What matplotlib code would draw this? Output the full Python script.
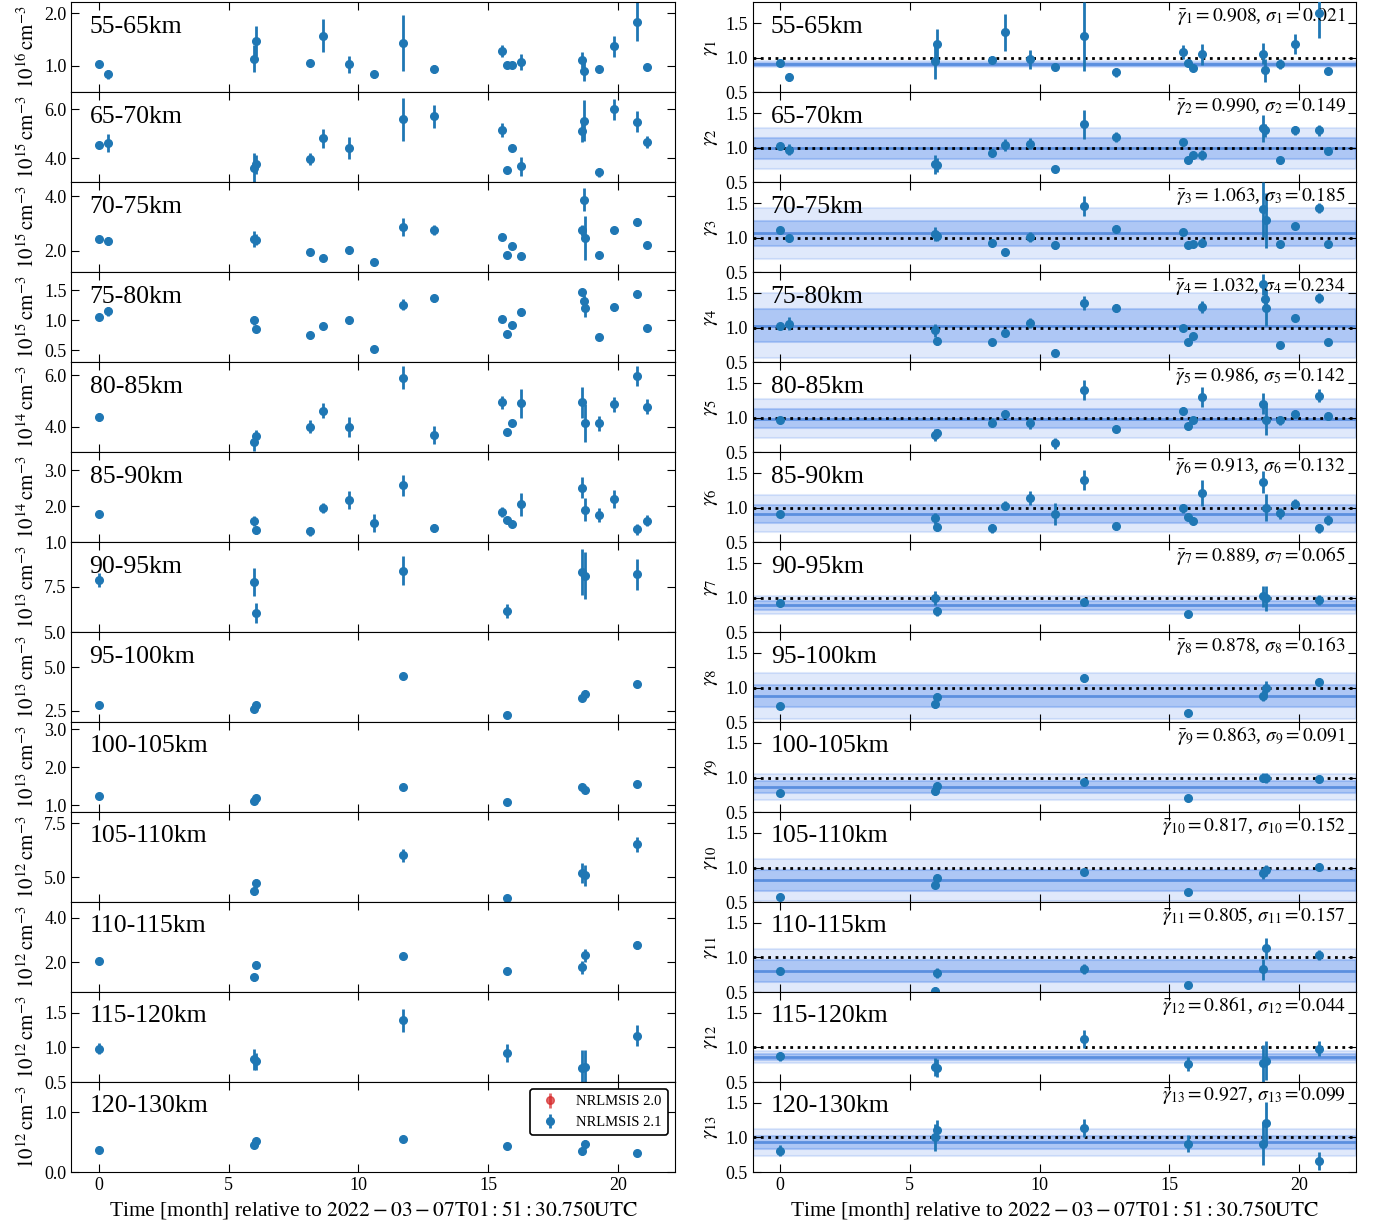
import numpy as np
import matplotlib
matplotlib.use('Agg')
import matplotlib.pyplot as plt

plt.rcParams['font.family'] = 'serif'
plt.rcParams['font.serif'] = ['Liberation Serif', 'DejaVu Serif']
plt.rcParams['mathtext.fontset'] = 'stix'

nan = np.nan

# time of each observation [month]
t_low = [0.0, 0.35, 5.97, 6.05, 8.15, 8.65, 9.65, 10.6, 11.7, 12.93, 15.52, 15.72,
         15.9, 16.27, 18.62, 18.68, 18.74, 19.28, 19.85, 20.75, 21.12]
t_high = [0.0, 5.97, 6.05, 11.7, 15.72, 18.62, 18.74, 20.75]

layers = ['55-65km', '65-70km', '70-75km', '75-80km', '80-85km', '85-90km', '90-95km',
          '95-100km', '100-105km', '105-110km', '110-115km', '115-120km', '120-130km']
exponents = [16, 15, 15, 15, 14, 14, 13, 13, 13, 12, 12, 12, 12]

# density (left column), in units of 10^exp cm^-3
dens_1 = [1.04, 0.84, 1.14, 1.47, 1.05, 1.57, 1.03, 0.84, 1.43, 0.94, 1.28, 1.01, 1.01, 1.08, 1.11, 0.91, nan, 0.94, 1.37, 1.84, 0.98]
derr_1 = [0.03, 0.08, 0.25, 0.28, 0.05, 0.31, 0.16, 0.06, 0.53, 0.08, 0.12, 0.03, 0.03, 0.15, 0.15, 0.19, nan, 0.06, 0.2, 0.37, 0.04]
dens_2 = [4.55, 4.62, 3.61, 3.74, 3.96, 4.81, 4.41, nan, 5.59, 5.71, 5.14, 3.53, 4.43, 3.66, 5.13, 5.54, nan, 3.41, 6.0, 5.49, 4.66]
derr_2 = [0.1, 0.38, 0.6, 0.4, 0.25, 0.4, 0.44, nan, 0.87, 0.46, 0.29, 0.08, 0.12, 0.38, 0.45, 0.85, nan, 0.2, 0.45, 0.43, 0.26]
dens_3 = [2.42, 2.34, 2.42, 2.40, 1.94, 1.73, 2.01, 1.58, 2.87, 2.76, 2.49, 1.84, 2.16, 1.80, 2.74, 3.87, 2.47, 1.82, 2.75, 3.05, 2.20]
derr_3 = [0.04, 0.15, 0.3, 0.2, 0.05, 0.05, 0.15, 0.06, 0.34, 0.18, 0.05, 0.05, 0.05, 0.12, 0.2, 0.42, 0.8, 0.06, 0.13, 0.15, 0.05]
dens_4 = [1.05, 1.15, 1.0, 0.86, 0.76, 0.9, 1.0, 0.52, 1.26, 1.37, 1.02, 0.77, 0.92, 1.14, 1.47, 1.33, 1.21, 0.72, 1.22, 1.44, 0.87]
derr_4 = [0.02, 0.07, 0.08, 0.05, 0.03, 0.03, 0.06, 0.03, 0.09, 0.06, 0.03, 0.03, 0.03, 0.07, 0.05, 0.1, 0.15, 0.03, 0.06, 0.07, 0.03]
dens_5 = [4.38, nan, 3.4, 3.62, 3.99, 4.62, 3.99, nan, 5.9, 3.66, 4.95, 3.79, 4.13, 4.9, 4.94, nan, 4.14, 4.13, 4.87, 5.96, 4.78]
derr_5 = [0.15, nan, 0.35, 0.25, 0.25, 0.3, 0.4, nan, 0.45, 0.35, 0.25, 0.1, 0.12, 0.55, 0.6, nan, 0.75, 0.3, 0.3, 0.4, 0.3]
dens_6 = [1.78, nan, 1.59, 1.34, 1.3, 1.95, 2.18, 1.53, 2.58, 1.4, 1.84, 1.63, 1.52, 2.05, 2.52, nan, 1.91, 1.75, 2.2, 1.36, 1.6]
derr_6 = [0.05, nan, 0.15, 0.1, 0.12, 0.15, 0.25, 0.25, 0.3, 0.12, 0.15, 0.05, 0.05, 0.33, 0.28, nan, 0.33, 0.2, 0.25, 0.15, 0.15]
dens_7 = [7.88, 7.77, 6.04, 8.39, 6.17, 8.32, 8.12, 8.19]
derr_7 = [0.4, 0.75, 0.55, 0.8, 0.4, 1.25, 1.3, 0.85]
dens_8 = [2.79, 2.56, 2.81, 4.46, 2.23, 3.23, 3.46, 4.0]
derr_8 = [0.08, 0.12, 0.12, 0.15, 0.08, 0.2, 0.2, 0.15]
dens_9 = [1.24, 1.11, 1.19, 1.49, 1.09, 1.48, 1.41, 1.56]
derr_9 = [0.04, 0.04, 0.05, 0.05, 0.04, 0.08, 0.08, 0.05]
dens_10 = [nan, 4.37, 4.71, 6.02, 4.04, 5.19, 5.08, 6.51]
derr_10 = [nan, 0.2, 0.2, 0.3, 0.15, 0.45, 0.5, 0.35]
dens_11 = [2.05, 1.32, 1.88, 2.27, 1.61, 1.76, 2.3, 2.77]
derr_11 = [0.05, 0.15, 0.15, 0.15, 0.05, 0.3, 0.3, 0.2]
dens_12 = [0.98, 0.83, 0.8, 1.39, 0.92, 0.71, 0.72, 1.17]
derr_12 = [0.08, 0.15, 0.12, 0.16, 0.13, 0.25, 0.25, 0.15]
dens_13 = [0.37, 0.45, 0.51, 0.55, 0.43, 0.35, 0.46, 0.31]
derr_13 = [0.02, 0.04, 0.04, 0.03, 0.03, 0.06, 0.07, 0.03]

# scale factor gamma (right column)
gam_1 = [0.92, 0.72, 0.95, 1.2, 0.97, 1.37, 0.98, 0.87, 1.31, 0.79, 1.08, 0.93, 0.86, 1.05, 1.06, 0.82, nan, 0.91, 1.2, 1.65, 0.81]
gerr_1 = [0.02, 0.06, 0.25, 0.22, 0.05, 0.27, 0.14, 0.05, 0.5, 0.07, 0.1, 0.03, 0.03, 0.15, 0.15, 0.17, nan, 0.07, 0.15, 0.37, 0.03]
gam_2 = [1.02, 0.97, 0.76, 0.75, 0.92, 1.04, 1.06, 0.70, 1.34, 1.16, 1.08, 0.82, 0.90, 0.90, 1.28, 1.25, nan, 0.82, 1.25, 1.25, 0.95]
gerr_2 = [0.02, 0.08, 0.14, 0.1, 0.05, 0.08, 0.08, 0.04, 0.21, 0.07, 0.03, 0.03, 0.03, 0.07, 0.19, 0.1, nan, 0.05, 0.07, 0.08, 0.03]
gam_3 = [1.11, 1.0, 1.06, 1.02, 0.93, 0.79, 1.01, 0.9, 1.46, 1.13, 1.09, 0.9, 0.91, 0.93, 1.41, nan, 1.25, 0.91, 1.17, 1.43, 0.91]
gerr_3 = [0.02, 0.06, 0.1, 0.07, 0.03, 0.03, 0.07, 0.06, 0.15, 0.05, 0.03, 0.03, 0.03, 0.06, 0.4, nan, 0.4, 0.03, 0.05, 0.07, 0.03]
gam_4 = [1.03, 1.06, 0.96, 0.81, 0.8, 0.92, 1.07, 0.64, 1.36, 1.28, 0.99, 0.8, 0.88, 1.3, 1.63, 1.42, 1.29, 0.75, 1.14, 1.43, 0.79]
gerr_4 = [0.02, 0.1, 0.1, 0.06, 0.03, 0.03, 0.07, 0.05, 0.1, 0.06, 0.03, 0.03, 0.03, 0.09, 0.15, 0.15, 0.27, 0.03, 0.05, 0.07, 0.03]
gam_5 = [0.97, nan, 0.75, 0.78, 0.93, 1.06, 0.92, 0.63, 1.4, 0.84, 1.1, 0.88, 0.96, 1.3, 1.2, nan, 0.97, 0.96, 1.05, 1.32, 1.02]
gerr_5 = [0.02, nan, 0.08, 0.06, 0.06, 0.05, 0.08, 0.08, 0.15, 0.05, 0.05, 0.03, 0.03, 0.15, 0.15, nan, 0.22, 0.07, 0.06, 0.09, 0.06]
gam_6 = [0.91, nan, 0.85, 0.72, 0.7, 1.03, 1.14, 0.91, 1.4, 0.73, 0.99, 0.87, 0.81, 1.21, 1.37, nan, 1.0, 0.92, 1.06, 0.7, 0.82]
gerr_6 = [0.02, nan, 0.08, 0.06, 0.07, 0.07, 0.1, 0.16, 0.15, 0.06, 0.07, 0.03, 0.03, 0.19, 0.16, nan, 0.2, 0.08, 0.07, 0.07, 0.07]
gam_7 = [0.92, 1.0, 0.8, 0.94, 0.77, 1.02, 0.99, 0.97]
gerr_7 = [0.02, 0.1, 0.06, 0.06, 0.02, 0.15, 0.18, 0.07]
gam_8 = [0.74, 0.76, 0.87, 1.14, 0.63, 0.88, 0.99, 1.08]
gerr_8 = [0.02, 0.06, 0.05, 0.06, 0.02, 0.08, 0.1, 0.06]
gam_9 = [0.78, 0.8, 0.88, 0.94, 0.71, 1.0, 0.99, 0.98]
gerr_9 = [0.02, 0.05, 0.05, 0.05, 0.02, 0.07, 0.07, 0.05]
gam_10 = [0.57, 0.75, 0.85, 0.93, 0.64, 0.92, 0.96, 1.01]
gerr_10 = [0.02, 0.05, 0.05, 0.04, 0.02, 0.08, 0.08, 0.05]
gam_11 = [0.81, 0.52, 0.78, 0.83, 0.6, 0.83, 1.13, 1.04]
gerr_11 = [0.02, 0.05, 0.07, 0.07, 0.04, 0.15, 0.15, 0.07]
gam_12 = [0.87, 0.72, 0.71, 1.12, 0.76, 0.77, 0.81, 0.98]
gerr_12 = [0.07, 0.13, 0.13, 0.13, 0.1, 0.27, 0.28, 0.11]
gam_13 = [0.81, 1.0, 1.11, 1.14, 0.91, 0.9, 1.21, 0.66]
gerr_13 = [0.08, 0.2, 0.14, 0.13, 0.12, 0.3, 0.3, 0.13]

gam_mean = [0.908, 0.990, 1.063, 1.032, 0.986, 0.913, 0.889, 0.878, 0.863, 0.817, 0.805, 0.861, 0.927]
gam_std = [0.021, 0.149, 0.185, 0.234, 0.142, 0.132, 0.065, 0.163, 0.091, 0.152, 0.157, 0.044, 0.099]

dens = [dens_1, dens_2, dens_3, dens_4, dens_5, dens_6, dens_7, dens_8, dens_9, dens_10, dens_11, dens_12, dens_13]
derr = [derr_1, derr_2, derr_3, derr_4, derr_5, derr_6, derr_7, derr_8, derr_9, derr_10, derr_11, derr_12, derr_13]
gams = [gam_1, gam_2, gam_3, gam_4, gam_5, gam_6, gam_7, gam_8, gam_9, gam_10, gam_11, gam_12, gam_13]
gerrs = [gerr_1, gerr_2, gerr_3, gerr_4, gerr_5, gerr_6, gerr_7, gerr_8, gerr_9, gerr_10, gerr_11, gerr_12, gerr_13]

# 坐标轴范围和刻度
ylims = [(0.5, 2.2), (3.0, 6.7), (1.2, 4.5), (0.3, 1.8), (3.0, 6.5), (1.0, 3.5), (5.0, 9.95),
         (1.83, 7.0), (0.82, 3.19), (3.85, 8.0), (0.65, 4.7), (0.5, 1.8), (0.0, 1.5)]
yticks = [[1.0, 2.0], [4.0, 6.0], [2.0, 4.0], [0.5, 1.0, 1.5], [4.0, 6.0], [1.0, 2.0, 3.0], [5.0, 7.5],
          [2.5, 5.0], [1.0, 2.0, 3.0], [5.0, 7.5], [2.0, 4.0], [0.5, 1.0, 1.5], [0.0, 1.0]]

fig, axes = plt.subplots(13, 2, figsize=(13.74, 12.27), dpi=100, sharex=True)
plt.subplots_adjust(left=0.052, right=0.987, top=0.998, bottom=0.0448, hspace=0, wspace=0.1285)

ebkw = dict(fmt='o', color='tab:blue', ms=5.5, elinewidth=2, capsize=0)

for i in range(13):
    axl = axes[i, 0]
    axr = axes[i, 1]
    t = t_low if i < 6 else t_high

    # 左列: 密度
    if i == 12:
        axl.errorbar([], [], yerr=[], fmt='o', color='tab:red', alpha=0.7, ms=5.5,
                     elinewidth=2, capsize=0, label='NRLMSIS 2.0')
    axl.errorbar(t, dens[i], yerr=derr[i], label='NRLMSIS 2.1', **ebkw)
    axl.set_ylim(ylims[i])
    axl.set_yticks(yticks[i])
    axl.set_ylabel(r'$10^{%d}\,\mathrm{cm}^{-3}$' % exponents[i], fontsize=15)
    axl.text(0.03, 0.73, layers[i], transform=axl.transAxes, fontsize=18.5, va='center')

    # 右列: gamma
    m, s = gam_mean[i], gam_std[i]
    axr.axhspan(m - 2 * s, m + 2 * s, color='cornflowerblue', alpha=0.2, lw=1.5, zorder=0)
    axr.axhspan(m - s, m + s, color='cornflowerblue', alpha=0.4, lw=1.5, zorder=0.5)
    axr.axhline(m, color='#5b8fdf', lw=2, zorder=1)
    axr.axhline(1.0, color='k', ls=':', lw=2, zorder=2)
    axr.errorbar(t, gams[i], yerr=gerrs[i], zorder=3, **ebkw)
    axr.set_ylim(0.5, 1.8)
    axr.set_yticks([0.5, 1.0, 1.5])
    axr.set_ylabel(r'$\gamma_{%d}$' % (i + 1), fontsize=15)
    axr.text(0.03, 0.73, layers[i], transform=axr.transAxes, fontsize=18.5, va='center')
    axr.text(0.983, 0.85, r'$\bar{\gamma}_{%d}=%.3f$, $\sigma_{%d}=%.3f$' % (i + 1, m, i + 1, s),
             transform=axr.transAxes, fontsize=14, ha='right', va='center')

    for ax in (axl, axr):
        ax.set_xlim(-1.06, 22.2)
        ax.set_xticks([0, 5, 10, 15, 20])
        ax.yaxis.set_major_formatter(plt.FormatStrFormatter('%.1f'))
        ax.tick_params(direction='in', top=True, right=True, length=6, labelsize=13)

leg = axes[12, 0].legend(loc='upper right', fontsize=10.5, framealpha=1, edgecolor='k')
leg.get_frame().set_linewidth(1.2)

xlab = r'Time [month] relative to $\mathrm{2022-03-07T01:51:30.750 UTC}$'
axes[12, 0].set_xlabel(xlab, fontsize=15.5)
axes[12, 1].set_xlabel(xlab, fontsize=15.5)
fig.align_ylabels(axes[:, 0])
fig.align_ylabels(axes[:, 1])

plt.savefig('out.png', dpi=100)
